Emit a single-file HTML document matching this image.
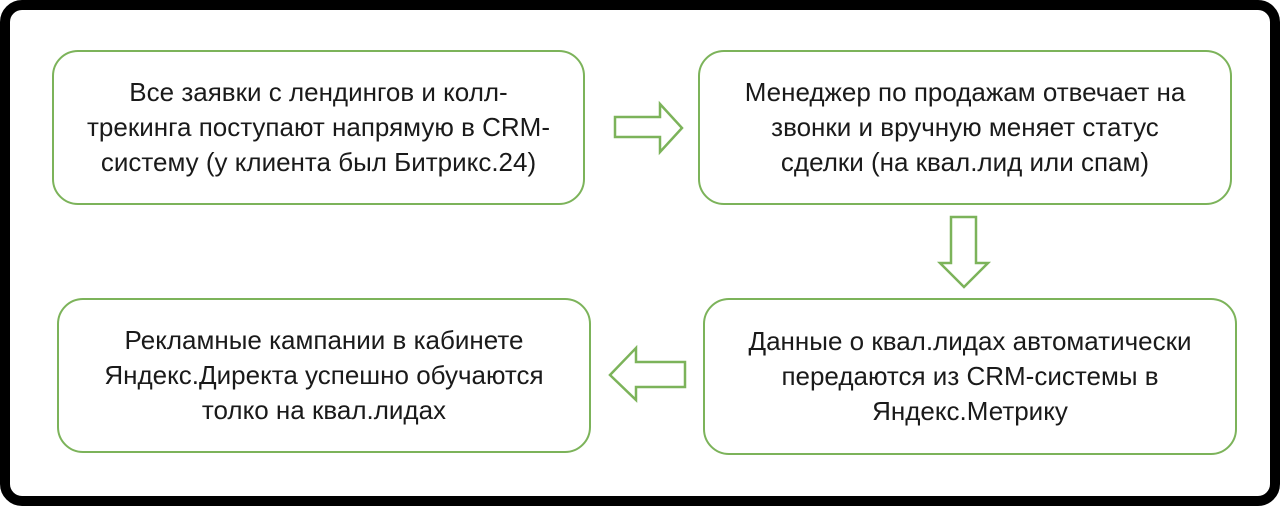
<!DOCTYPE html>
<html><head><meta charset="utf-8"><style>
html,body{margin:0;padding:0;background:#fff;}
.wrap{position:relative;width:1280px;height:506px;overflow:hidden;}
.frame{position:absolute;left:0;top:0;width:1280px;height:506px;box-sizing:border-box;border:10px solid #000;border-radius:22px;background:#fff;}
.box{position:absolute;box-sizing:border-box;border:2.5px solid #7cb35a;border-radius:26px;background:#fff;display:flex;align-items:center;justify-content:center;text-align:center;font-family:"Liberation Sans",sans-serif;font-size:26px;line-height:35px;color:#1a1a1a;white-space:nowrap;}
svg{position:absolute;left:0;top:0;}
</style></head><body><div class="wrap">
<div class="frame"></div>
<div class="box" style="left:52px;top:50px;width:533px;height:155px;">Все заявки с лендингов и колл-<br>трекинга поступают напрямую в CRM-<br>систему (у клиента был Битрикс.24)</div>
<div class="box" style="left:698px;top:50px;width:534px;height:155px;">Менеджер по продажам отвечает на<br>звонки и вручную меняет статус<br>сделки (на квал.лид или спам)</div>
<div class="box" style="left:57px;top:298px;width:534px;height:155px;">Рекламные кампании в кабинете<br>Яндекс.Директа успешно обучаются<br>толко на квал.лидах</div>
<div class="box" style="left:703px;top:298px;width:534px;height:157px;">Данные о квал.лидах автоматически<br>передаются из CRM-системы в<br>Яндекс.Метрику</div>
<svg width="1280" height="506">
<g fill="none" stroke="#7cb35a" stroke-width="2.5" stroke-linejoin="miter">
<polygon points="615,117 660,117 660,104 682,128 660,152 660,137 615,137"/>
<polygon points="951,217 976,217 976,263 988,263 964,287 940,263 951,263"/>
<polygon points="685,362 636,362 636,348 610,375 636,400 636,387 685,387"/>
</g></svg>
</div></body></html>
